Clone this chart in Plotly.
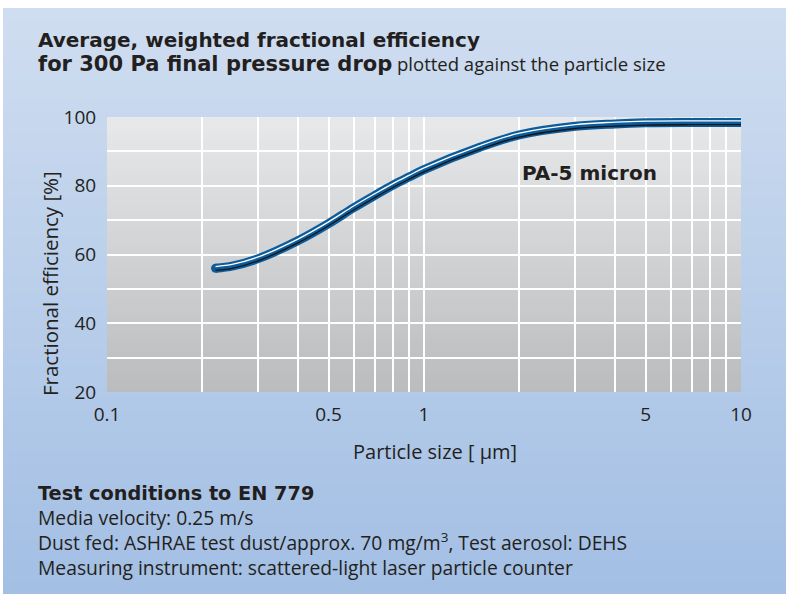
import plotly.graph_objects as go

# ---------------- data ----------------
particle_size = [0.22, 0.25, 0.3, 0.4, 0.5, 0.6, 0.7, 0.8, 0.9, 1.0, 1.5, 2, 3, 4, 5, 7, 10]
efficiency = [56.0, 56.7, 58.8, 64.0, 69.0, 73.6, 77.2, 80.2, 82.6, 84.7, 91.2, 94.8, 97.3, 98.0, 98.3, 98.4, 98.4]
series_name = "PA-5 micron"

x_tick_vals = [0.1, 0.5, 1, 5, 10]
x_tick_text = ["0.1", "0.5", "1", "5", "10"]
x_minor_vals = [0.2, 0.3, 0.4, 0.6, 0.7, 0.8, 0.9, 2, 3, 4, 6, 7, 8, 9]
y_tick_vals = [20, 40, 60, 80, 100]

BOLD = "<span style='font-family:DejaVu Sans;font-weight:bold'>%s</span>"
title_line1 = BOLD % "Average, weighted fractional efficiency"
title_line2 = ("<span style='font-family:DejaVu Sans;font-weight:bold;font-size:21px'>for 300 Pa final pressure drop</span>"
               "<span style='font-size:18.5px'> plotted against the particle size</span>")
x_title = "Particle size [ μm]"
y_title = "Fractional efficiency [%]"
notes = [
    BOLD % "Test conditions to EN 779",
    "Media velocity: 0.25 m/s",
    "Dust fed: ASHRAE test dust/approx. 70 mg/m<sup>3</sup>, Test aerosol: DEHS",
    "Measuring instrument: scattered-light laser particle counter",
]

# ---------------- layout geometry ----------------
FW, FH = 787, 594
L, R, T, B = 107, 741, 117, 392
W, H = R - L, B - T
YMIN, YMAX = 20, 100
unit_per_px = (YMAX - YMIN) / H

def px2x(px):          # page pixel -> paper x
    return (px - L) / W

def py2y(py):          # page pixel -> paper y
    return (B - py) / H

def lerp(c1, c2, t):
    return "rgb(%d,%d,%d)" % tuple(round(a + (b - a) * t) for a, b in zip(c1, c2))

FONT = "Open Sans"
TXT = "#231f20"
BLUE = "#0c5c9c"

shapes = []
# blue panel gradient
pt, pb = (207, 221, 240), (163, 191, 228)
n = 90
top_px, bot_px, lft_px, rgt_px = 8, FH, 3, FW - 1
for i in range(n):
    a = top_px + (bot_px - top_px) * i / n
    b = min(bot_px, top_px + (bot_px - top_px) * (i + 1) / n + 1)
    shapes.append(dict(type="rect", xref="paper", yref="paper", layer="below",
                       x0=px2x(lft_px), x1=px2x(rgt_px), y0=py2y(b), y1=py2y(a),
                       fillcolor=lerp(pt, pb, i / (n - 1)), line=dict(width=0)))
# plot-area gradient (grey)
gt, gb = (231, 232, 233), (187, 188, 190)
m = 60
for i in range(m):
    y1 = 1 - i / m
    y0 = max(0, 1 - (i + 1) / m - 0.004)
    shapes.append(dict(type="rect", xref="x domain", yref="y domain", layer="below",
                       x0=0, x1=1, y0=y0, y1=y1,
                       fillcolor=lerp(gt, gb, i / (m - 1)), line=dict(width=0)))

fig = go.Figure()
SPL = dict(shape="spline", smoothing=1.0)
fig.add_trace(go.Scatter(x=particle_size, y=efficiency, mode="lines",
                         line=dict(color=BLUE, width=9, **SPL),
                         hoverinfo="skip", showlegend=False))
fig.add_trace(go.Scatter(x=[particle_size[0], particle_size[-1]], y=[efficiency[0], efficiency[-1]],
                         mode="markers", marker=dict(color=BLUE, size=9, line=dict(width=0)),
                         hoverinfo="skip", showlegend=False))
fig.add_trace(go.Scatter(x=particle_size, y=efficiency, mode="lines", yaxis="y3",
                         line=dict(color="#151515", width=1.3, **SPL),
                         hoverinfo="skip", showlegend=False))
fig.add_trace(go.Scatter(x=particle_size, y=efficiency, mode="lines", yaxis="y2",
                         line=dict(color="white", width=1.3, **SPL),
                         hoverinfo="skip", showlegend=False))

up = 1.7 * unit_per_px
down = 2.2 * unit_per_px

annotations = []
def add_text(text, xpx, ypx, size, xanchor="left", yanchor="middle", angle=0, align="left"):
    annotations.append(dict(text=text, xref="paper", yref="paper", x=px2x(xpx), y=py2y(ypx),
                            xanchor=xanchor, yanchor=yanchor, showarrow=False, textangle=angle,
                            align=align, font=dict(family=FONT, size=size, color=TXT)))

add_text(title_line1, 36, 40, 20)
add_text(title_line2, 36, 63, 20)
add_text(x_title, 434.5, 451, 20, xanchor="center")
add_text(y_title, 50, 284, 20.5, xanchor="center", angle=-90)
add_text("<br>".join(notes), 36, 531, 19.3)
add_text(BOLD % series_name, 520, 173, 20)

fig.update_layout(
    width=FW, height=FH,
    margin=dict(l=L, r=FW - R, t=T, b=FH - B, pad=0),
    paper_bgcolor="white",
    plot_bgcolor="rgba(0,0,0,0)",
    shapes=shapes,
    annotations=annotations,
    font=dict(family=FONT, color=TXT),
    xaxis=dict(type="log", range=[-1, 1], tickvals=x_tick_vals, ticktext=x_tick_text,
               showgrid=True, gridcolor="white", gridwidth=2.2, zeroline=False, showline=False,
               ticks="outside", ticklen=5, tickcolor="rgba(0,0,0,0)",
               tickfont=dict(family=FONT, size=19, color=TXT),
               minor=dict(tickvals=x_minor_vals, showgrid=True, gridcolor="white", gridwidth=2.2,
                          ticks="")),
    yaxis=dict(range=[YMIN, YMAX], tickvals=y_tick_vals,
               showgrid=True, gridcolor="white", gridwidth=2.2, zeroline=False, showline=False,
               ticks="outside", ticklen=6, tickcolor="rgba(0,0,0,0)",
               tickfont=dict(family=FONT, size=19, color=TXT),
               minor=dict(dtick=10, showgrid=True, gridcolor="white", gridwidth=2.2, ticks="")),
    yaxis2=dict(range=[YMIN - up, YMAX - up], overlaying="y", visible=False, showgrid=False),
    yaxis3=dict(range=[YMIN + down, YMAX + down], overlaying="y", visible=False, showgrid=False),
)

fig.write_html("out.html", config={"displayModeBar": False},
               post_script="document.body.style.margin='0';document.body.style.overflow='hidden';")
